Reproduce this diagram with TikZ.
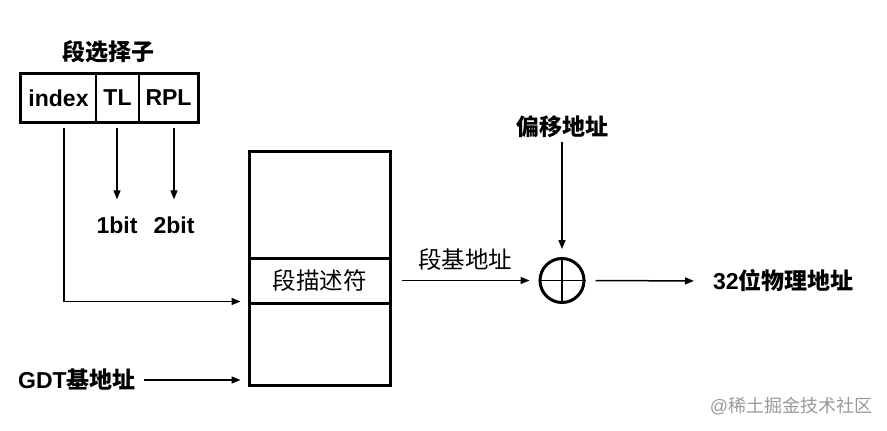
\documentclass[tikz,border=0pt]{standalone}
\usepackage{fontspec}
\setmainfont{Liberation Sans}
\newfontfamily\cjk{Noto Sans CJK SC}
\usetikzlibrary{arrows.meta}
\newcommand\zhtxt[1]{{\cjk #1}}
\begin{document}
\begin{tikzpicture}[x=1pt,y=-1pt,
  arr/.style={line width=1.5pt,-{Triangle[length=9pt,width=7pt]}},
  lbl/.style={font=\fontsize{23}{27}\selectfont\bfseries, inner sep=0pt},
  lblr/.style={font=\fontsize{23.5}{27}\selectfont, inner sep=0pt},
  cell/.style={draw, line width=1.5pt, inner sep=0pt, font=\fontsize{23}{27}\selectfont\bfseries, minimum height=48pt},
  slot/.style={draw, line width=3pt, inner sep=0pt, minimum width=141pt},
]
\useasboundingbox (0,0) rectangle (887,431);
% segment selector
\node[lbl] (title) at (108,52) {\zhtxt{段选择子}};
\node[cell, minimum width=75pt] (idx) at (58.5,98) {index};
\node[cell, minimum width=43pt] (tl) at (117.5,98) {TL};
\node[cell, minimum width=59pt] (rpl) at (168.5,98) {RPL};
\draw[line width=3pt] (idx.north west) rectangle (rpl.south east);
\node[lbl] (b1) at (117,225) {1bit};
\node[lbl] (b2) at (174,225) {2bit};
\draw[arr, shorten <=5pt, shorten >=17pt] ([xshift=-0.5pt]tl.south) -- ([xshift=-0.5pt]tl.south |- b1.north);
\draw[arr, shorten <=5pt, shorten >=17pt] ([xshift=5.5pt]rpl.south) -- ([xshift=5.5pt]rpl.south |- b2.north);
% descriptor table
\node[slot, minimum height=107pt] (top) at (319.5,204.5) {};
\node[slot, minimum height=45pt, lblr] (desc) at (319.5,280.5) {\zhtxt{段描述符}};
\node[slot, minimum height=82pt] (bot) at (319.5,344) {};
\draw[arr, shorten <=5pt, shorten >=7pt] ([xshift=5.5pt]idx.south) |- (bot.north west);
\node[lbl] (gdt) at (77,380) {GDT\zhtxt{基地址}};
\draw[arr, shorten <=8pt, shorten >=7pt] (gdt.east) -- (gdt.east -| bot.west);
% adder
\node[draw, circle, line width=3pt, minimum size=44pt, inner sep=0pt] (add) at (562,280.5) {};
\draw[line width=1.5pt] (add.north) -- (add.south) (add.west) -- (add.east);
\draw[arr, shorten <=10pt, shorten >=9pt] (desc.east) -- (add.west);
\node[lblr] (base) at (465,260) {\zhtxt{段基地址}};
\node[lbl] (off) at (562,127) {\zhtxt{偏移地址}};
\draw[arr, shorten <=4pt, shorten >=8pt] (off.south) -- (add.north);
\node[lbl, anchor=west] (phys) at (713,281) {32\zhtxt{位物理地址}};
\draw[arr, shorten <=10pt, shorten >=19pt] (add.east) -- (phys.west);
% watermark
\node[font=\fontsize{18}{20}\selectfont, text=black!40, inner sep=0pt] (wm) at (791,406) {@\zhtxt{稀土掘金技术社区}};
\end{tikzpicture}
\end{document}
